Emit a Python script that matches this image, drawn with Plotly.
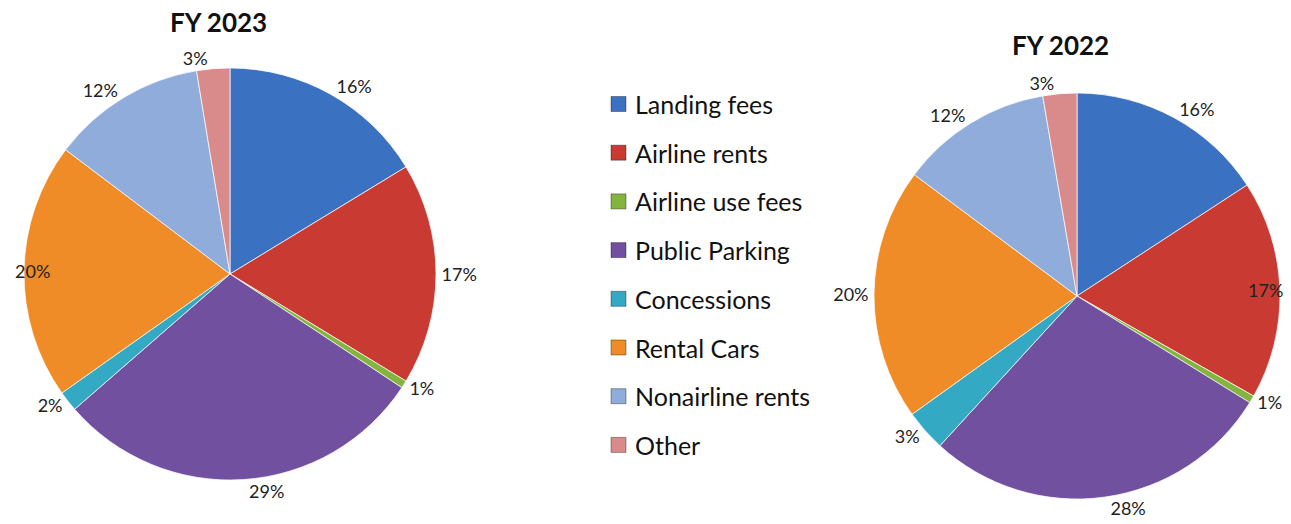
import math
import plotly.graph_objects as go

W, H = 1291, 524

categories = ["Landing fees", "Airline rents", "Airline use fees", "Public Parking",
              "Concessions", "Rental Cars", "Nonairline rents", "Other"]
fy2023 = [16.3, 17.4, 0.6, 29.3, 1.6, 20.1, 12.1, 2.6]
fy2022 = [15.8, 17.4, 0.6, 28.0, 3.3, 20.1, 12.1, 2.7]

colors = ["#3A71C1", "#C93A33", "#82B43E", "#7250A0",
          "#33A9C3", "#F08C28", "#90ACDA", "#D98A8B"]
FONT = "Lato, 'Open Sans', sans-serif"
LABEL_FONT = dict(family=FONT, size=18, color="#222222")

PIE23 = (230, 274, 206)   # centre x, centre y, radius in pixels
PIE22 = (1077, 296, 203)


def fx(x):
    return x / W


def fy(y):
    return 1 - y / H


def px_domain(cx, cy, r):
    return dict(x=[fx(cx - r), fx(cx + r)], y=[fy(cy + r), fy(cy - r)])


def make_pie(values, geom, edge_idx):
    # the slice whose label has no room outside gets its label on the pie edge instead
    pos = ["none" if i == edge_idx else "outside" for i in range(len(values))]
    return go.Pie(
        labels=categories,
        values=values,
        sort=False,
        direction="clockwise",
        rotation=0,
        domain=px_domain(*geom),
        marker=dict(colors=colors, line=dict(color="rgba(255,255,255,0.7)", width=1)),
        textposition=pos,
        texttemplate="%{percent:.0%}",
        textfont=LABEL_FONT,
        showlegend=False,
    )


def edge_label(fig, values, geom, idx, rf):
    tot = sum(values)
    ang = 2 * math.pi * (sum(values[:idx]) + values[idx] / 2) / tot
    cx, cy, r = geom
    x = cx + rf * r * math.sin(ang)
    y = cy - rf * r * math.cos(ang)
    fig.add_annotation(text=f"{round(values[idx] / tot * 100)}%", x=fx(x), y=fy(y),
                       xref="paper", yref="paper", xanchor="center", yanchor="middle",
                       showarrow=False, font=LABEL_FONT)


fig = go.Figure()
fig.add_trace(make_pie(fy2023, PIE23, 5))
fig.add_trace(make_pie(fy2022, PIE22, 1))
edge_label(fig, fy2023, PIE23, 5, 0.96)
edge_label(fig, fy2022, PIE22, 1, 0.93)

# titles
fig.add_annotation(text="<b>FY 2023</b>", x=fx(218), y=fy(22), xref="paper", yref="paper",
                   xanchor="center", yanchor="middle", showarrow=False,
                   font=dict(family=FONT, size=26, color="#111111"))
fig.add_annotation(text="<b>FY 2022</b>", x=fx(1060), y=fy(45), xref="paper", yref="paper",
                   xanchor="center", yanchor="middle", showarrow=False,
                   font=dict(family=FONT, size=26, color="#111111"))

# legend drawn by hand to get the wide row spacing
y0, dy = 104, 48.7
for i, (name, c) in enumerate(zip(categories, colors)):
    yc = y0 + i * dy
    fig.add_shape(type="rect", xref="paper", yref="paper",
                  x0=fx(611), x1=fx(626), y0=fy(yc + 7.5), y1=fy(yc - 7.5),
                  fillcolor=c, line=dict(color="rgba(0,0,0,0.35)", width=1))
    fig.add_annotation(text=name, x=fx(633), y=fy(yc), xref="paper", yref="paper",
                       xanchor="left", yanchor="middle", showarrow=False,
                       font=dict(family=FONT, size=25, color="#111111"))

fig.update_layout(
    width=W, height=H,
    margin=dict(l=0, r=0, t=0, b=0, autoexpand=False),
    paper_bgcolor="white",
    plot_bgcolor="white",
)

# drop the default page margin so the figure fills the window exactly
fig.write_html("out.html", config={"displayModeBar": False},
               post_script="document.body.style.margin = '0';")
